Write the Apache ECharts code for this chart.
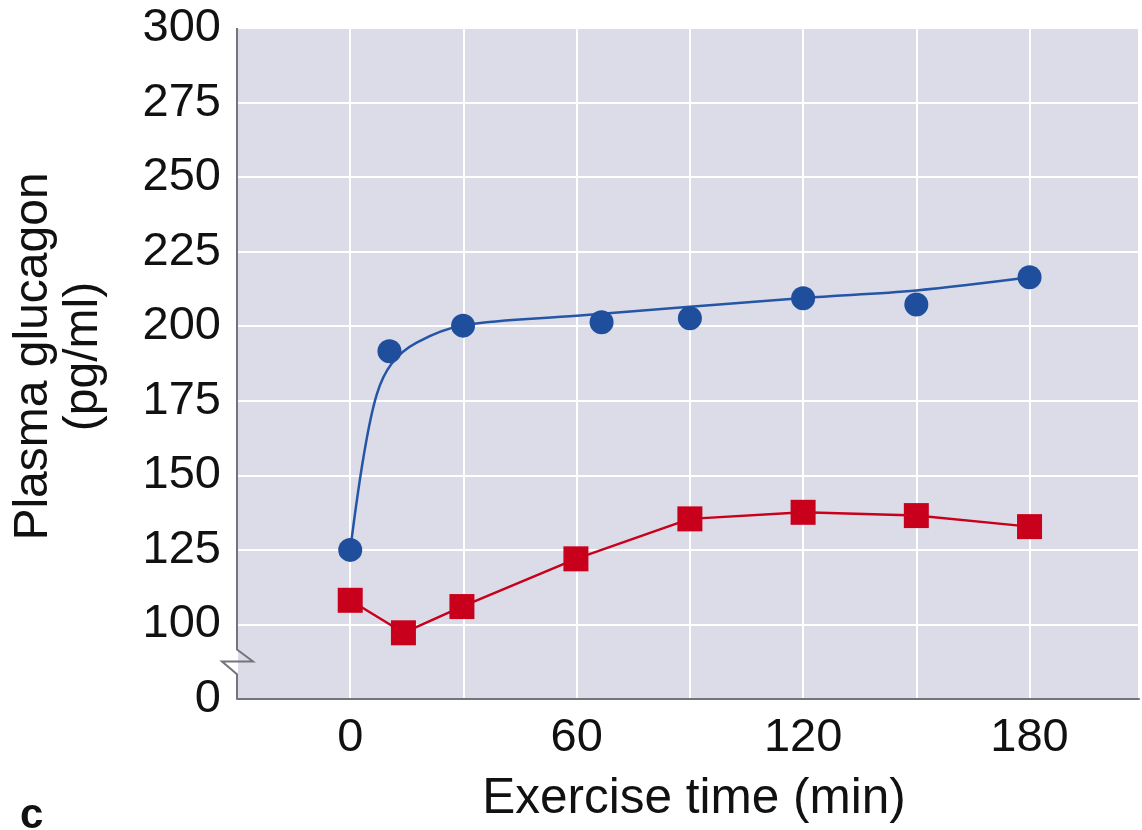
<!DOCTYPE html>
<html>
<head>
<meta charset="utf-8">
<script src="https://cdn.jsdelivr.net/npm/echarts@6/dist/echarts.min.js"></script>
<style>
html,body{margin:0;padding:0;background:#fff;}
#chart{width:1142px;height:830px;}
</style>
</head>
<body>
<div id="chart"></div>
<script>
// Data
const blueTime = [0, 10.4, 29.9, 66.6, 90, 120, 150, 180];
const blueValue = [125, 191.6, 200.2, 201.3, 202.7, 209.4, 207.3, 216.4];
const blueFitTime = [0, 3.5, 7, 11, 17.6, 30, 60, 120, 150, 180];
const blueFitValue = [125, 156, 177, 187.5, 194.5, 200.3, 203.5, 209.5, 212, 216.4];
const redTime = [0, 14.1, 29.6, 59.8, 90, 120, 150, 180];
const redValue = [108.1, 97.2, 106, 122, 135.4, 137.6, 136.5, 132.8];
const xTickLabels = [0, 60, 120, 180];
const yTickLabels = [100, 125, 150, 175, 200, 225, 250, 275, 300];
const yBreakLabel = '0';

const FONT = '"Liberation Sans", Arial, sans-serif';
const AXIS_COLOR = '#74747c';

const pairs = (xs, ys) => xs.map((x, i) => [x, ys[i]]);

const chart = echarts.init(document.getElementById('chart'));
const Y_MIN = 75, Y_MAX = 300;
const option = {
  animation: false,
  title: {
    text: 'c', left: 15, top: 790,
    textStyle: { fontFamily: FONT, fontWeight: 'bold', fontSize: 42, color: '#111' }
  },
  grid: {
    left: 237, right: 0, top: 28, bottom: 131,
    show: true, backgroundColor: '#dcdce8', borderWidth: 0
  },
  xAxis: {
    type: 'value', min: -30, max: 209, interval: 30,
    name: 'Exercise time (min)', nameLocation: 'middle', nameGap: 75,
    nameTextStyle: { fontFamily: FONT, fontSize: 49.5, color: '#111', padding: [0, 0, 0, 12] },
    axisLine: { show: true, onZero: false, lineStyle: { color: AXIS_COLOR, width: 2 } },
    axisTick: { show: false },
    axisLabel: {
      margin: 16, fontFamily: FONT, fontSize: 47, color: '#111',
      formatter: v => xTickLabels.includes(v) ? String(v) : ''
    },
    splitLine: { show: true, lineStyle: { color: '#ffffff', width: 2 } }
  },
  yAxis: {
    type: 'value', min: Y_MIN, max: Y_MAX, interval: 25,
    name: 'Plasma glucagon\n(pg/ml)', nameLocation: 'middle', nameGap: 128, nameRotate: 90,
    nameTextStyle: { fontFamily: FONT, fontSize: 48, color: '#111', lineHeight: 50, padding: [0, 0, 0, 14] },
    axisLine: { show: false },
    axisTick: { show: false },
    axisLabel: {
      margin: 16, fontFamily: FONT, fontSize: 47, color: '#111',
      formatter: v => v === Y_MIN ? yBreakLabel : (yTickLabels.includes(v) ? String(v) : '')
    },
    splitLine: { show: true, lineStyle: { color: '#ffffff', width: 2 } }
  },
  series: [
    {
      name: 'fit', type: 'line', data: pairs(blueFitTime, blueFitValue),
      smooth: 0.35, showSymbol: false, symbol: 'none',
      lineStyle: { color: '#2556a6', width: 2.5 }, z: 3, silent: true
    },
    {
      name: 'blue', type: 'line', data: pairs(blueTime, blueValue),
      lineStyle: { width: 0, opacity: 0 }, symbol: 'circle', symbolSize: 24,
      itemStyle: { color: '#1f4f9c' }, z: 4
    },
    {
      name: 'red', type: 'line', data: pairs(redTime, redValue),
      lineStyle: { color: '#c8001c', width: 2.5 }, symbol: 'rect', symbolSize: 25,
      itemStyle: { color: '#c8001c' }, z: 4
    }
  ]
};
chart.setOption(option);

// y-axis line with a break symbol
function drawAxisBreak() {
  const px = v => chart.convertToPixel({ gridIndex: 0 }, [-30, v]);
  const top = px(Y_MAX), bot = px(Y_MIN);
  const x = top[0];
  const b1 = px(91.6)[1], b2 = px(87.6)[1], b3 = px(83.3)[1];
  chart.setOption({
    graphic: [{
      type: 'polyline', z: 10, silent: true,
      shape: { points: [[x, top[1]], [x, b1], [x + 16, b2], [x - 15, b2], [x, b3], [x, bot[1]]] },
      style: { stroke: AXIS_COLOR, lineWidth: 2, fill: null }
    }]
  });
}
drawAxisBreak();
</script>
</body>
</html>
